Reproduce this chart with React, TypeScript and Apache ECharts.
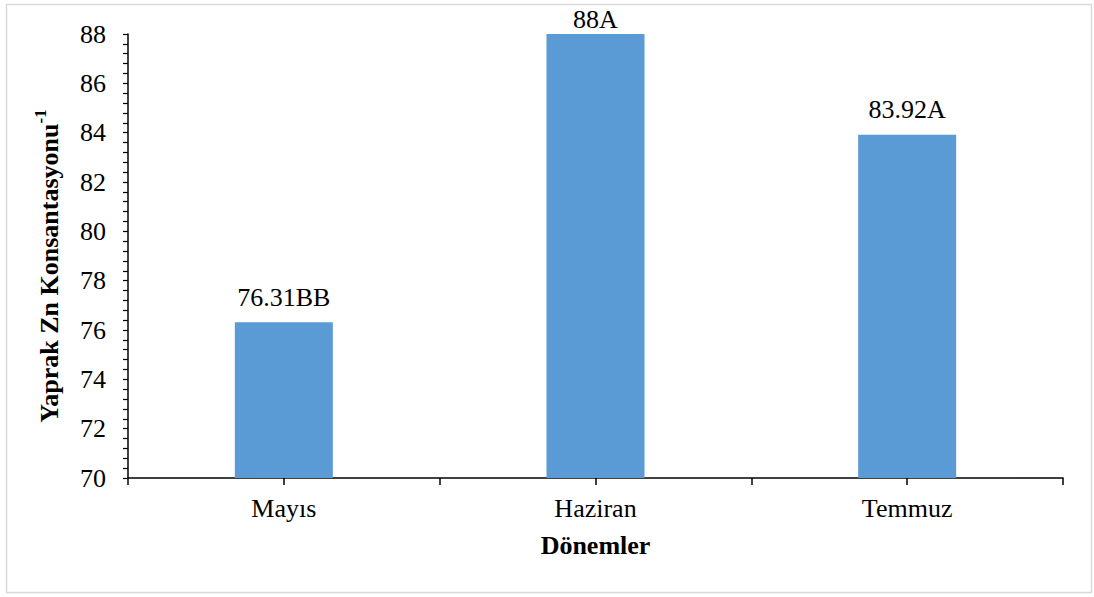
import React, { useEffect, useRef } from "react";
import * as echarts from "echarts";

// Sampling periods and leaf Zn concentration means with significance letters
const periods = ["Mayıs", "Haziran", "Temmuz"];
const znValues = [76.31, 88, 83.92];
const groupLetters = ["BB", "A", "A"];
const yTicks = { min: 70, max: 88, step: 2 };

const SERIF = "'Liberation Serif', 'Times New Roman', serif";
const FS = 26;

export default function App() {
  const ref = useRef<HTMLDivElement>(null);

  useEffect(() => {
    document.body.style.margin = "0";
    const chart = echarts.init(ref.current!, null, { renderer: "svg" });

    // a bar reaching the top of the axis keeps its label tucked just above it
    const barData = znValues.map((v) =>
      v >= yTicks.max
        ? { value: v, label: { distance: 3, lineHeight: 24 } }
        : { value: v }
    );

    chart.setOption({
      animation: false,
      backgroundColor: "#ffffff",
      textStyle: { fontFamily: SERIF },
      graphic: [
        {
          type: "rect",
          shape: { x: 6.5, y: 4.5, width: 1085, height: 588 },
          style: { fill: "none", stroke: "#d9d9d9", lineWidth: 1.5 },
          silent: true,
        },
      ],
      grid: { left: 128, right: 31, top: 34, bottom: 119 },
      xAxis: [
        {
          type: "category",
          data: periods,
          boundaryGap: true,
          name: "Dönemler",
          nameLocation: "middle",
          nameGap: 54,
          nameTextStyle: {
            fontFamily: SERIF,
            fontSize: FS,
            fontWeight: "bold",
            color: "#000",
          },
          axisLine: { show: true, lineStyle: { color: "#000", width: 1.5 } },
          axisTick: {
            show: true,
            interval: 0,
            alignWithLabel: false,
            length: 7,
            lineStyle: { color: "#000", width: 1.5 },
          },
          axisLabel: {
            margin: 17,
            fontFamily: SERIF,
            fontSize: FS,
            color: "#000",
          },
          splitLine: { show: false },
        },
        {
          // extra ticks under each category centre
          type: "category",
          data: periods,
          position: "bottom",
          boundaryGap: true,
          axisLine: { show: false },
          axisTick: {
            show: true,
            interval: 0,
            alignWithLabel: true,
            length: 7,
            lineStyle: { color: "#000", width: 1.5 },
          },
          axisLabel: { show: false },
          splitLine: { show: false },
        },
      ],
      yAxis: {
        type: "value",
        min: yTicks.min,
        max: yTicks.max,
        interval: yTicks.step,
        name: "{main|Yaprak Zn Konsantasyonu}{sup|-1}",
        nameLocation: "middle",
        nameGap: 66,
        nameTextStyle: {
          padding: [0, 20, 0, 0],
          rich: {
            main: {
              fontFamily: SERIF,
              fontSize: FS,
              fontWeight: "bold",
              color: "#000",
              lineHeight: 30,
              verticalAlign: "bottom",
            },
            sup: {
              fontFamily: SERIF,
              fontSize: 17,
              fontWeight: "bold",
              color: "#000",
              lineHeight: 30,
              verticalAlign: "top",
            },
          },
        },
        axisLine: { show: true, lineStyle: { color: "#000", width: 1.5 } },
        axisTick: {
          show: true,
          inside: false,
          length: 5,
          lineStyle: { color: "#000", width: 1.2 },
        },
        minorTick: {
          show: true,
          splitNumber: 5,
          length: 5,
          lineStyle: { color: "#000", width: 1.2 },
        },
        axisLabel: {
          margin: 22,
          fontFamily: SERIF,
          fontSize: FS,
          color: "#000",
        },
        splitLine: { show: false },
        minorSplitLine: { show: false },
      },
      series: [
        {
          type: "bar",
          xAxisIndex: 0,
          data: barData,
          barWidth: 98,
          itemStyle: { color: "#5b9bd5" },
          label: {
            show: true,
            position: "top",
            distance: 12,
            fontFamily: SERIF,
            fontSize: FS,
            color: "#000",
            formatter: (p: any) => `${znValues[p.dataIndex]}${groupLetters[p.dataIndex]}`,
          },
        },
      ],
    });
    return () => chart.dispose();
  }, []);

  return <div ref={ref} style={{ width: 1094, height: 597 }} />;
}
